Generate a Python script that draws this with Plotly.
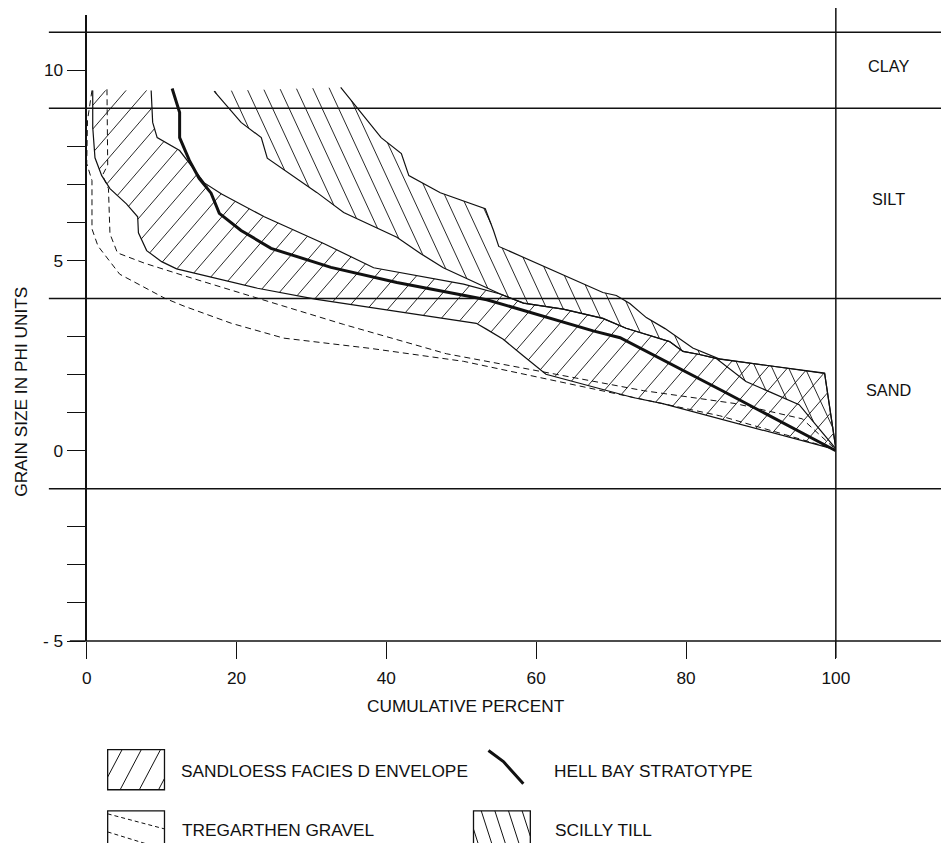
import numpy as np
import plotly.graph_objects as go

# Layout is designed in reference-window pixels (941 x 843).  The rendered page
# is photographed slightly reduced, so the figure is enlarged by S and all
# positions are given as paper fractions of the reference window.
REF_W, REF_H = 941, 843
S = 957 / 941
FIG_W, FIG_H = round(REF_W * S), round(REF_H * S)

# ---------------- data (cumulative percent, grain size in phi) ----------------
sandloess_upper_pct = [8.6, 8.8, 9.4, 12.4, 15.7, 18.0, 23.7, 31.7, 38.3, 50.3, 55.2, 58.3, 63.6,
                       68.9, 72.0, 76.5, 77.8, 79.6, 81.8, 84.0, 98.5, 100]
sandloess_upper_phi = [9.47, 8.63, 8.23, 7.89, 7.04, 6.75, 6.15, 5.44, 4.81, 4.38, 4.12, 3.88, 3.72,
                       3.48, 3.22, 2.95, 2.87, 2.61, 2.53, 2.43, 2.03, 0.05]
sandloess_lower_pct = [0.8, 0.8, 1.1, 2.0, 3.1, 5.3, 6.8, 6.9, 8.0, 10.0, 12.0, 22.8, 30.7, 45.0,
                       52.0, 53.4, 55.6, 58.3, 61.3, 72.9, 76.9, 100]
sandloess_lower_phi = [9.47, 8.5, 7.70, 7.23, 6.89, 6.49, 6.15, 5.73, 5.26, 4.97, 4.78, 4.27, 3.98, 3.56,
                       3.35, 3.19, 2.93, 2.49, 2.01, 1.40, 1.24, 0.03]

hellbay_pct = [11.4, 12.4, 12.4, 13.7, 15.0, 16.6, 17.7, 20.6, 24.6, 32.6, 41.4, 53.4, 67.6, 71.2, 84.9, 100]
hellbay_phi = [9.52, 8.89, 8.23, 7.63, 7.16, 6.77, 6.24, 5.79, 5.32, 4.82, 4.42, 3.97, 3.15, 2.97, 1.57, 0.0]

scilly_upper_pct = [33.9, 36.1, 39.3, 42.0, 43.0, 47.2, 53.2, 54.3, 55.0, 68.9, 70.7, 72.5, 74.7,
                    77.2, 80.9, 84.5, 98.5, 100]
scilly_upper_phi = [9.55, 9.02, 8.23, 7.81, 7.23, 6.78, 6.36, 5.79, 5.37, 4.16, 4.08, 3.87, 3.50,
                    3.21, 2.70, 2.41, 2.04, 0.07]
scilly_lower_pct = [17.0, 20.6, 23.3, 24.1, 30.7, 34.3, 41.4, 44.6, 47.6, 55.2, 58.3, 63.6, 68.9,
                    72.0, 76.5, 77.8, 79.6, 81.8, 84.0, 88.0, 95.1, 98.5, 100]
scilly_lower_phi = [9.45, 8.63, 8.23, 7.69, 6.79, 6.26, 5.61, 5.18, 4.81, 4.12, 3.88, 3.72, 3.48,
                    3.22, 2.95, 2.87, 2.61, 2.53, 2.43, 1.82, 1.21, 0.42, 0.05]

tregarthen_a_pct = [2.7, 2.8, 2.1, 2.9, 3.1, 4.1, 7.7, 13.0, 23.3, 34.3, 48.0, 60.9, 66.3, 74.3,
                    86.6, 95.5, 100]
tregarthen_a_phi = [9.5, 7.51, 7.24, 6.89, 5.70, 5.20, 4.93, 4.60, 3.98, 3.32, 2.55, 2.08, 1.87, 1.58,
                    1.24, 0.84, 0.03]
tregarthen_b_pct = [0.7, 0.1, 0.0, 0.7, 0.7, 1.5, 4.4, 10.4, 13.0, 19.3, 26.3, 37.9, 50.3, 60.9,
                    70.7, 84.5, 93.3, 100]
tregarthen_b_phi = [9.47, 8.68, 7.55, 7.10, 5.83, 5.38, 4.64, 4.01, 3.80, 3.35, 2.96, 2.69, 2.35, 1.91,
                    1.50, 0.92, 0.42, 0.03]

class_bounds = [11, 9, 4, -1, -5]
class_names = ["CLAY", "SILT", "SAND"]
x_ticks = [0, 20, 40, 60, 80, 100]
y_ticks = list(range(-5, 11))
y_labels = {10: "10", 5: "5", 0: "0", -5: "- 5"}

# ---------------- geometry (reference window pixels) ----------------
X_RANGE = [0, 100]
Y_RANGE = [-5, 11.45]
XDOM_PX = (82, 833.5)
YDOM_PX = (638, 15)          # bottom, top (pixels from top of window)


def xp(px):
    return px / REF_W


def yp(py):
    return 1 - py / REF_H


xdom = [xp(XDOM_PX[0]), xp(XDOM_PX[1])]
ydom = [yp(YDOM_PX[0]), yp(YDOM_PX[1])]
KX = (XDOM_PX[1] - XDOM_PX[0]) / (X_RANGE[1] - X_RANGE[0])   # px per percent
KY = (YDOM_PX[0] - YDOM_PX[1]) / (Y_RANGE[1] - Y_RANGE[0])   # px per phi


def x2paper(v):
    return xdom[0] + (v - X_RANGE[0]) / (X_RANGE[1] - X_RANGE[0]) * (xdom[1] - xdom[0])


def y2paper(v):
    return ydom[0] + (v - Y_RANGE[0]) / (Y_RANGE[1] - Y_RANGE[0]) * (ydom[1] - ydom[0])


def hatch(xs, ys, angle_deg, spacing, kx, ky, phase=0.0):
    X = np.asarray(xs, float) * kx
    Y = np.asarray(ys, float) * ky
    th = np.radians(angle_deg)
    dx, dy = np.cos(th), np.sin(th)
    nx, ny = -dy, dx
    pn = nx * X + ny * Y
    n = len(X)
    ox, oy = [], []
    c = np.floor((pn.min() - phase) / spacing) * spacing + phase + spacing
    while c < pn.max():
        hits = []
        for i in range(n):
            j = (i + 1) % n
            a, b = pn[i] - c, pn[j] - c
            if (a > 0) != (b > 0):
                t = a / (a - b)
                hx = X[i] + t * (X[j] - X[i])
                hy = Y[i] + t * (Y[j] - Y[i])
                hits.append((dx * hx + dy * hy, hx, hy))
        hits.sort()
        for k in range(0, len(hits) - 1, 2):
            ox += [hits[k][1] / kx, hits[k + 1][1] / kx, None]
            oy += [hits[k][2] / ky, hits[k + 1][2] / ky, None]
        c += spacing
    return ox, oy


INK = "#111111"
FONT = "Liberation Sans, Arial, Helvetica, sans-serif"
FS = 17 * S
FS_CLASS = 16 * S

fig = go.Figure()

# hatching of envelopes
sx_poly = sandloess_upper_pct + sandloess_lower_pct[::-1]
sy_poly = sandloess_upper_phi + sandloess_lower_phi[::-1]
hx, hy = hatch(sx_poly, sy_poly, 49, 15.5, KX, KY, phase=4)
fig.add_trace(go.Scatter(x=hx, y=hy, mode="lines", line=dict(color=INK, width=0.9),
                         hoverinfo="skip", showlegend=False))

tx_poly = scilly_upper_pct + scilly_lower_pct[::-1]
ty_poly = scilly_upper_phi + scilly_lower_phi[::-1]
hx, hy = hatch(tx_poly, ty_poly, 115, 15.0, KX, KY, phase=2)
fig.add_trace(go.Scatter(x=hx, y=hy, mode="lines", line=dict(color=INK, width=0.9),
                         hoverinfo="skip", showlegend=False))

# envelope boundaries
for xs, ys in [(sandloess_upper_pct, sandloess_upper_phi), (sandloess_lower_pct, sandloess_lower_phi),
               (scilly_upper_pct, scilly_upper_phi), (scilly_lower_pct, scilly_lower_phi)]:
    fig.add_trace(go.Scatter(x=xs, y=ys, mode="lines", line=dict(color=INK, width=1.2),
                             hoverinfo="skip", showlegend=False))

# Tregarthen gravel (dashed)
for xs, ys in [(tregarthen_a_pct, tregarthen_a_phi), (tregarthen_b_pct, tregarthen_b_phi)]:
    fig.add_trace(go.Scatter(x=xs, y=ys, mode="lines",
                             line=dict(color=INK, width=1.0, dash="6px,4px"),
                             hoverinfo="skip", showlegend=False))

# Hell Bay stratotype (thick)
fig.add_trace(go.Scatter(x=hellbay_pct, y=hellbay_phi, mode="lines",
                         line=dict(color=INK, width=3), hoverinfo="skip", showlegend=False))

shapes = []
# class boundary lines
for b in class_bounds:
    left = 65 if b == class_bounds[-1] else 44
    shapes.append(dict(type="line", xref="paper", yref="paper", x0=xp(left), x1=1.0,
                       y0=y2paper(b), y1=y2paper(b), line=dict(color=INK, width=1.5)))
# right vertical line at 100 %
shapes.append(dict(type="line", xref="paper", yref="paper", x0=x2paper(100), x1=x2paper(100),
                   y0=yp(655), y1=yp(8), line=dict(color=INK, width=1.5)))

annotations = []
# class labels
for i, name in enumerate(class_names):
    mid = (class_bounds[i] + class_bounds[i + 1]) / 2
    annotations.append(dict(text=name, xref="paper", yref="paper", x=xp(886), y=y2paper(mid),
                            yshift=4, showarrow=False, xanchor="center", yanchor="middle",
                            font=dict(size=FS_CLASS, family=FONT, color=INK)))

# axis titles
annotations.append(dict(text="CUMULATIVE PERCENT", xref="paper", yref="paper", x=xp(462), y=yp(703),
                        showarrow=False, xanchor="center", yanchor="middle",
                        font=dict(size=FS, family=FONT, color=INK)))
annotations.append(dict(text="GRAIN SIZE IN PHI UNITS", xref="paper", yref="paper", x=xp(16), y=yp(390),
                        showarrow=False, textangle=-90, xanchor="center", yanchor="middle",
                        font=dict(size=FS, family=FONT, color=INK)))

# ---------------- legend (hand drawn) ----------------
def add_box(x0, y0, x1, y1):
    shapes.append(dict(type="rect", xref="paper", yref="paper", x0=xp(x0), x1=xp(x1),
                       y0=yp(y1), y1=yp(y0), line=dict(color=INK, width=1.3)))


def add_box_hatch(x0, y0, x1, y1, angle, spacing, phase):
    lx, ly = hatch([x0, x1, x1, x0], [y0, y0, y1, y1], angle, spacing, 1.0, -1.0, phase)
    for k in range(0, len(lx), 3):
        shapes.append(dict(type="line", xref="paper", yref="paper", x0=xp(lx[k]), x1=xp(lx[k + 1]),
                           y0=yp(ly[k]), y1=yp(ly[k + 1]), line=dict(color=INK, width=1)))


# sandloess box
add_box(103, 746, 160, 786)
add_box_hatch(103, 746, 160, 786, 62, 17, 5)
annotations.append(dict(text="SANDLOESS FACIES D ENVELOPE", xref="paper", yref="paper", x=xp(175),
                        y=yp(767), showarrow=False, xanchor="left", yanchor="middle",
                        font=dict(size=FS, family=FONT, color=INK)))
# hell bay symbol
shapes.append(dict(type="path", xref="paper", yref="paper",
                   path="M {},{} L {},{} L {},{}".format(xp(485), yp(747), xp(500), yp(758), xp(520), yp(780)),
                   line=dict(color=INK, width=3)))
annotations.append(dict(text="HELL BAY STRATOTYPE", xref="paper", yref="paper", x=xp(549),
                        y=yp(767), showarrow=False, xanchor="left", yanchor="middle",
                        font=dict(size=FS, family=FONT, color=INK)))
# tregarthen box
add_box(103, 807, 160, 853)
for (a0, b0, a1, b1) in [(103, 810, 160, 825), (103, 828, 152, 843)]:
    shapes.append(dict(type="line", xref="paper", yref="paper", x0=xp(a0), x1=xp(a1),
                       y0=yp(b0), y1=yp(b1), line=dict(color=INK, width=1, dash="4px,3px")))
annotations.append(dict(text="TREGARTHEN GRAVEL", xref="paper", yref="paper", x=xp(176),
                        y=yp(826), showarrow=False, xanchor="left", yanchor="middle",
                        font=dict(size=FS, family=FONT, color=INK)))
# scilly box
add_box(470, 807, 527, 853)
add_box_hatch(470, 807, 527, 853, 108, 13, 3)
annotations.append(dict(text="SCILLY TILL", xref="paper", yref="paper", x=xp(550),
                        y=yp(826), showarrow=False, xanchor="left", yanchor="middle",
                        font=dict(size=FS, family=FONT, color=INK)))

fig.update_layout(
    width=FIG_W, height=FIG_H,
    margin=dict(l=0, r=0, t=0, b=0),
    paper_bgcolor="white", plot_bgcolor="white",
    font=dict(family=FONT, size=FS, color=INK),
    showlegend=False,
    shapes=shapes,
    annotations=annotations,
    xaxis=dict(domain=xdom, range=X_RANGE, showgrid=False, zeroline=False, showline=False,
               tickmode="array", tickvals=x_ticks, ticktext=[str(v) for v in x_ticks],
               ticks="outside", ticklen=17 * S, tickwidth=1.3, tickcolor=INK,
               ticklabelstandoff=4, tickfont=dict(size=FS, family=FONT, color=INK)),
    yaxis=dict(domain=ydom, range=Y_RANGE, showgrid=False, zeroline=False, showline=True,
               linecolor=INK, linewidth=1.6,
               tickmode="array", tickvals=y_ticks, ticktext=[y_labels.get(v, "") for v in y_ticks],
               ticks="outside", ticklen=18 * S, tickwidth=1.3, tickcolor=INK,
               tickfont=dict(size=FS, family=FONT, color=INK)),
)

fig.write_html("out.html", config={"displayModeBar": False},
               post_script="document.body.style.margin='0px';document.body.style.overflow='hidden';")
